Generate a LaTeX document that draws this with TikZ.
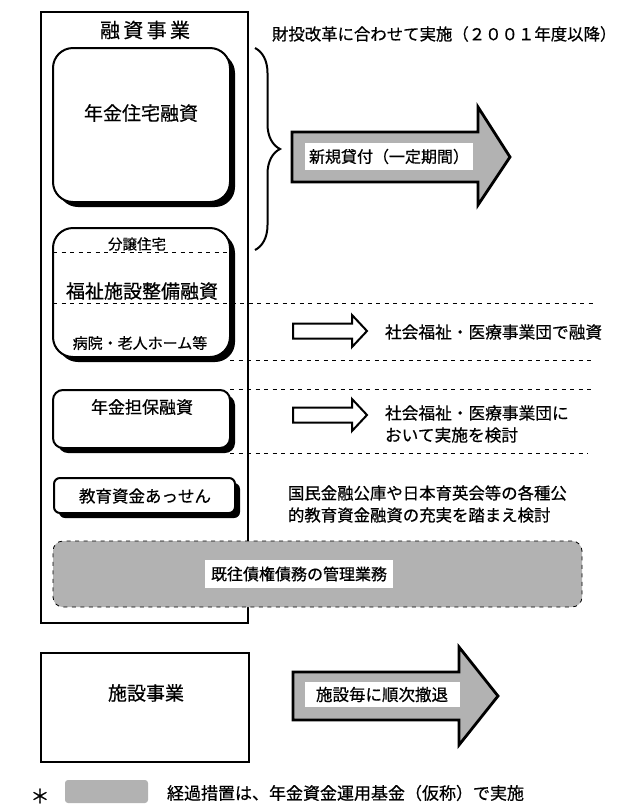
\documentclass[tikz,border=0pt]{standalone}
\usepackage{fontspec}
\setmainfont{Noto Sans CJK JP}[FakeBold=0.6]
\usepackage{tikz}
\usetikzlibrary{positioning,shadows,decorations.pathreplacing,calc}
\definecolor{bxGray}{RGB}{178,178,178}
\definecolor{bxLine}{RGB}{0,0,0}
\newcommand{\fs}[1]{\fontsize{#1}{22}\selectfont}

\begin{document}
\begin{tikzpicture}[
  x=1pt, y=-1pt,
  every node/.style={inner sep=0pt, outer sep=0pt},
  frame/.style={draw=bxLine, line width=2.5pt, anchor=north west},
  card/.style={draw=bxLine, line width=2pt, fill=white, rounded corners=#1, anchor=north west,
               drop shadow={shadow xshift=5pt, shadow yshift=-5pt, opacity=1, fill=black}},
  card/.default=8pt,
  tag/.style={fill=white, font=\fs{16}, minimum height=27pt},
  txt/.style={font=\fs{16.4}, anchor=west, align=left},
  bigarr/.style={draw=bxLine, line width=2.8pt, fill=bxGray, line join=miter},
  smarr/.style={draw=bxLine, line width=2pt, fill=white, line join=miter},
  sep/.style={dash pattern=on 4pt off 4.5pt, line width=0.8pt}
]
\useasboundingbox (0,0) rectangle (618,812);

% lending business
\node[frame, minimum width=207pt, minimum height=611pt] (fin) at (41,12) {};
\node[font=\fs{20}] (finT) at (145,30) {融\,資\,事\,業};

\node[card=20pt, minimum width=177pt, minimum height=154pt] (hou) at (53,48) {};
\node[font=\fs{19}] (houT) at (141,113) {年金住宅融資};

\node[card=20pt, minimum width=177pt, minimum height=129pt] (wel) at (53,228) {};
\node[font=\fs{14.5}] (welA) at (137,244) {分譲住宅};
\node[font=\fs{19}] (welT) at (142,291) {福祉施設整備融資};
\node[font=\fs{15}] (welB) at (140,343) {病院・老人ホーム等};

\node[card=10pt, minimum width=177pt, minimum height=58pt] (pen) at (53,390) {};
\node[font=\fs{17}] (penT) at (142,407) {年金担保融資};

\node[card=6pt, minimum width=181pt, minimum height=35pt] (edu) at (54,478) {};
\node[font=\fs{16.5}] (eduT) at (145,496) {教育資金あっせん};

% separators
\draw[sep] (wel.west |- 0,252) -- (wel.east |- 0,252);
\foreach \y/\xa/\xb in {303/53/593, 360/230/593, 389/230/593, 453/230/588}
  \draw[sep] (\xa,\y) -- (\xb,\y);

% brace and new loans
\coordinate (brTop) at (255,48);
\coordinate (brBot) at (255,250);
\draw[line width=2pt, decorate, decoration={brace, amplitude=25pt}] (brTop) -- (brBot);
\node[txt, font=\fs{16.4}] (topT) at (272,34) {財投改革に合わせて実施（２００１年度以降）};

\draw[bigarr] (292,132) -- (478,132) -- (478,107) -- (510,157) -- (478,205) -- (478,182) -- (292,182) -- cycle;
\node[tag, minimum width=168pt] (newT) at (389,156.5) {新規貸付（一定期間）};

\foreach \y in {331,415}
  \draw[smarr] (293,\y-7.5) -- (352,\y-7.5) -- (352,\y-16) -- (367,\y) -- (352,\y+16) -- (352,\y+7.5) -- (293,\y+7.5) -- cycle;

\node[txt, font=\fs{16.7}] (welR) at (385,332) {社会福祉・医療事業団で融資};
\node[txt, font=\fs{16.7}] (penR) at (385,424) {社会福祉・医療事業団に\\おいて実施を検討};
\node[txt] (eduR) at (288,504) {国民金融公庫や日本育英会等の各種公\\的教育資金融資の充実を踏まえ検討};

% existing claims
\node[draw=bxLine, sep, fill=bxGray, rounded corners=10pt, anchor=north west,
      minimum width=529pt, minimum height=66pt] (old) at (53,541) {};
\node[tag, minimum width=188pt, minimum height=28pt] (oldT) at (299,574) {既往債権債務の管理業務};

% facilities business
\node[frame, minimum width=208pt, minimum height=109pt] (fac) at (41,653) {};
\node[font=\fs{19}] (facT) at (146,693) {施設事業};

\draw[bigarr] (293,672) -- (459,672) -- (459,647) -- (498,696) -- (459,745) -- (459,720) -- (293,720) -- cycle;
\node[tag, minimum width=155pt, minimum height=25pt, font=\fs{16.5}] (facR) at (382,694.5) {施設毎に順次撤退};

% legend
\node[font=\fs{19}] (star) at (40,796) {＊};
\node[fill=bxGray, rounded corners=3pt, anchor=north west, minimum width=83pt, minimum height=23pt] (legBox) at (65,780) {};
\node[txt, font=\fs{17}] (legT) at (167,793) {経過措置は、年金資金運用基金（仮称）で実施};

\end{tikzpicture}
\end{document}
